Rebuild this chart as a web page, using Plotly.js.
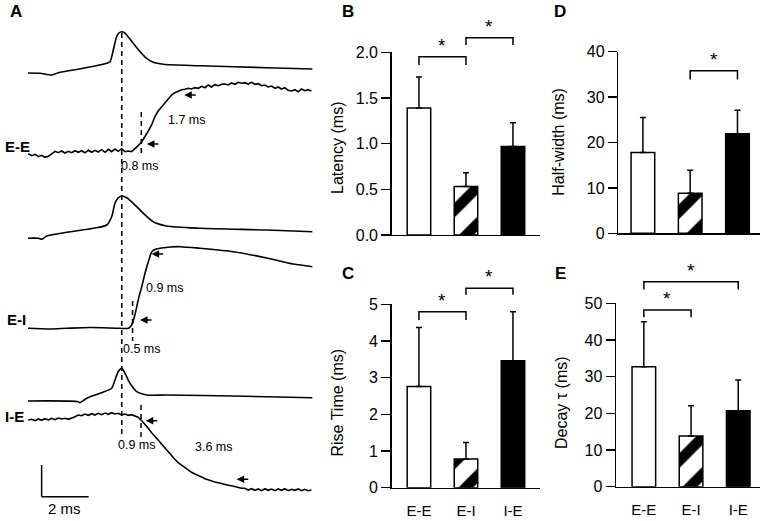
<!DOCTYPE html>
<html><head><meta charset="utf-8">
<script src="https://cdn.plot.ly/plotly-3.0.1.min.js"></script>
<style>html,body{margin:0;padding:0;background:#fff}#chart{width:764px;height:521px}</style>
</head><body><div id="chart"></div>
<script>
// ===== Panel A : example traces (time in ms, amplitude in arbitrary units) =====
const eePreT  = [0,0.51,1.01,1.29,2.35,3.35,3.49,3.63,3.77,3.87,3.99,4.09,4.20,4.48,4.77,5.05,5.33,5.76,7.32,10.16,12.10];
const eePreV  = [0,-0.3,-2,0.3,4.7,9.7,11.3,23,36.3,40,41.3,40.5,38,29.7,21.3,14.7,10.7,8.7,7.3,5.3,4];

const noisyT  = [0.01,0.16,0.30,0.44,0.58,0.72,0.87,1.01,1.15,1.29,
  1.43,1.57,1.72,1.86,2.00,2.14,2.28,2.42,2.57,2.71,
  2.85,2.99,3.13,3.28,3.42,3.56,3.70,3.84,3.98,4.13,
  4.27,4.41,4.55,4.69,4.84,4.98,5.12,5.26,5.40,5.54,
  5.69,5.83,5.97,6.11,6.25,6.39,6.54,6.68,6.82,6.96,
  7.10,7.25,7.39,7.53,7.67,7.81,7.95,8.10,8.24,8.38,
  8.52,8.66,8.81,8.95,9.09,9.23,9.37,9.51,9.66,9.80,
  9.94,10.08,10.22,10.37,10.51,10.65,10.79,10.93,11.07,11.22,
  11.36,11.50,11.64,11.78,11.92,12.06];
const eePostV = [-1.7,-3.7,-2.3,-4.7,-3.3,-5.3,-4.3,-1.7,0.7,-0.7,
  1.0,-1.0,0.7,-0.7,1.3,-0.3,1.3,-0.7,1.7,-0.3,
  1.7,0.0,2.3,-0.3,2.7,0.3,3.0,0.7,3.3,0.3,
  1.0,0.3,3.0,6.3,10.3,15.3,21.0,27.0,35.3,41.0,
  45.3,49.7,53.7,57.0,59.3,61.0,62.3,62.7,63.7,63.0,
  64.3,63.7,65.7,64.3,67.0,65.0,67.3,66.3,67.7,68.0,
  67.0,69.0,67.7,69.7,68.7,69.3,68.0,69.7,67.7,68.3,
  66.3,67.0,65.0,66.0,63.7,65.0,63.0,64.3,61.7,61.0,
  62.3,60.3,63.0,61.3,62.3,61.0];

const eiPreT  = [0,0.44,0.58,0.80,1.65,2.78,3.35,3.56,3.70,3.83,3.99,4.20,4.48,4.91,5.33,5.90,7.32,10.16,12.10];
const eiPreV  = [0,0,-1,2.3,6,10,13.3,21.6,35,40.3,42.3,40.6,35,25,16.6,12.3,10,8.3,6.6];

const eiPostT = [0,0.94,1.65,2.64,3.91,4.27,4.41,4.55,4.69,4.84,4.98,5.12,5.27,5.45,5.62,6.04,6.47,7.32,8.74,10.16,11.29,12.10];
const eiPostV = [0,-0.7,0,0.8,0,0,3.3,13.3,28.3,41.6,55,66.6,76.6,79.3,80,81.3,81.6,80,76.6,70.3,64.3,61.6];

const iePreT  = [0,2.14,2.21,2.50,3.06,3.56,3.70,3.84,3.99,4.13,4.34,4.63,5.05,5.90,8.74,12.10];
const iePreV  = [0,-0.7,-1.7,2.7,7.7,12.7,21,29.3,32.7,27.7,17.7,9.3,6,6,5,3.3];

const iePostV = [0,0.7,-0.7,1.0,-0.3,1.3,0,1.7,0.3,2.0,
  1.0,1.7,0.7,1.7,3.3,5.0,4.3,6.0,4.7,6.3,
  5.0,6.7,5.3,7.0,5.7,7.3,6.0,6.7,5.0,6.0,
  4.7,5.3,4.3,2.7,-0.7,-4.3,-8.3,-12.7,-16.0,-20.0,
  -24.3,-28.3,-32.3,-36.0,-39.3,-42.7,-45.3,-47.7,-49.7,-52.3,
  -54.0,-55.3,-57.0,-58.7,-60.0,-60.7,-62.0,-62.7,-63.7,-64.0,
  -65.3,-65.7,-66.7,-67.3,-68.3,-68.3,-70.0,-68.7,-70.3,-69.0,
  -70.7,-68.7,-70.3,-69.0,-70.7,-69.0,-70.3,-68.7,-70.7,-69.3,
  -70.3,-69.0,-70.7,-69.3,-70.7,-70.0];

const pairLabels    = ['E-E', 'E-I', 'I-E'];
const latencyLabels = ['0.8 ms', '0.5 ms', '0.9 ms'];
const riseLabels    = ['1.7 ms', '0.9 ms', '3.6 ms'];
const scaleBarMs    = 2;

// ===== Panels B-E : group means and SEM =====
const categories  = ['E-E', 'E-I', 'I-E'];
const latencyMean = [1.39, 0.53, 0.97];
const latencyErr  = [0.34, 0.15, 0.26];
const riseMean    = [2.76, 0.78, 3.46];
const riseErr     = [1.61, 0.45, 1.34];
const halfMean    = [17.8, 8.8, 21.9];
const halfErr     = [7.7, 5.1, 5.2];
const decayMean   = [32.7, 13.8, 20.7];
const decayErr    = [12.3, 8.3, 8.4];
const sigLatency  = [[0,1],[1,2]];
const sigRise     = [[0,1],[1,2]];
const sigHalf     = [[1,2]];
const sigDecay    = [[0,1],[0,2]];

// ===== drawing =====
const FONT = 'Arial, "Liberation Sans", sans-serif';
const BLACK = '#000';
const traces = [];
const shapes = [];
const annotations = [];

// axis geometry of the bar panels
const AX = {
  2: {xd:[0.5127, 0.7065], xr:[-0.58, 2.57], yd:[0.549, 0.8996],  yr:[0, 2],  dt:0.5, fmt:'.1f', lab:false},
  3: {xd:[0.5127, 0.7065], xr:[-0.58, 2.57], yd:[0.0639, 0.4159], yr:[0, 5],  dt:1,   fmt:'d',   lab:true},
  4: {xd:[0.8093, 0.9950], xr:[-0.52, 2.48], yd:[0.5522, 0.9008], yr:[0, 40], dt:10,  fmt:'d',   lab:false},
  5: {xd:[0.8063, 0.9953], xr:[-0.59, 2.47], yd:[0.0658, 0.4178], yr:[0, 50], dt:10,  fmt:'d',   lab:true}
};
const px = (n, v) => { const a = AX[n]; return a.xd[0] + (v - a.xr[0]) / (a.xr[1] - a.xr[0]) * (a.xd[1] - a.xd[0]); };
const py = (n, v) => { const a = AX[n]; return a.yd[0] + (v - a.yr[0]) / (a.yr[1] - a.yr[0]) * (a.yd[1] - a.yd[0]); };

// baselines (vertical stacking of the traces, in plot units of panel A)
const base = {eePre:73, eePost:152, eiPre:238.3, eiPost:328.3, iePre:401, iePost:420};
function wave(t, v, b, shape) {
  traces.push({type:'scatter', mode:'lines', x:t, y:v.map(a => a - b), xaxis:'x', yaxis:'y',
    line:{color:BLACK, width:1.6, shape:shape, smoothing:0.7}, hoverinfo:'skip', showlegend:false});
}
wave(eePreT, eePreV, base.eePre, 'spline');
wave(noisyT, eePostV, base.eePost, 'linear');
wave(eiPreT, eiPreV, base.eiPre, 'spline');
wave(eiPostT, eiPostV, base.eiPost, 'spline');
wave(iePreT, iePreV, base.iePre, 'spline');
wave(noisyT, iePostV, base.iePost, 'linear');

function dashLine(t, y0, y1) {
  shapes.push({type:'line', xref:'x', yref:'y', x0:t, x1:t, y0:y0, y1:y1,
    line:{color:BLACK, width:1.5, dash:'5px,4px'}});
}
dashLine(3.99, -33, -437);          // presynaptic spike peak
const onsetT = [4.82, 4.45, 4.81];
dashLine(onsetT[0], -112, -156);
dashLine(onsetT[1], -301, -341);
dashLine(onsetT[2], -405, -437);

function arrow(t, y) {
  annotations.push({xref:'x', yref:'y', x:t, y:y, ax:13, ay:0, axref:'pixel', ayref:'pixel',
    text:'', showarrow:true, arrowhead:2, arrowsize:1, arrowwidth:1.5, arrowcolor:BLACK, standoff:0});
}
arrow(5.06, -144); arrow(6.65, -95);
arrow(4.77, -320); arrow(5.26, -254);
arrow(5.01, -420.7); arrow(8.88, -479.3);

function aText(t, y, txt, size) {
  annotations.push({xref:'x', yref:'y', x:t, y:y, text:txt, showarrow:false,
    xanchor:'center', yanchor:'middle', font:{family:FONT, size:size || 12.5, color:BLACK}});
}
aText(6.75, -120, riseLabels[0]);
aText(4.77, -165.7, latencyLabels[0]);
aText(5.83, -288.3, riseLabels[1]);
aText(4.87, -349, latencyLabels[1]);
aText(4.63, -444.5, latencyLabels[2]);
aText(7.91, -446.5, riseLabels[2]);

// scale bar
shapes.push({type:'line', xref:'x', yref:'y', x0:0.58, x1:0.58, y0:-496.7, y1:-465, line:{color:BLACK, width:1.5}});
shapes.push({type:'line', xref:'x', yref:'y', x0:0.58, x1:0.58 + scaleBarMs, y0:-496.7, y1:-496.7, line:{color:BLACK, width:1.5}});
aText(0.58 + scaleBarMs / 2 - 0.03, -508.5, scaleBarMs + ' ms', 15);

// row labels
[[0.7179, 3], [0.3858, 5], [0.2002, 3]].forEach((p, i) => {
  annotations.push({xref:'paper', yref:'paper', x:p[1] / 764, y:p[0], text:'<b>' + pairLabels[i] + '</b>',
    showarrow:false, xanchor:'left', yanchor:'middle', font:{family:FONT, size:15, color:BLACK}});
});

// panel letters
[['A', 16, 12], ['B', 347.5, 12], ['C', 347.5, 273], ['D', 560, 12], ['E', 560, 273]].forEach(p => {
  annotations.push({xref:'paper', yref:'paper', x:p[1] / 764, y:1 - p[2] / 521, text:'<b>' + p[0] + '</b>',
    showarrow:false, xanchor:'center', yanchor:'middle', font:{family:FONT, size:17, color:BLACK}});
});

// bars
const barStyles = [
  {color:'white', pattern:{shape:''}},
  {color:'white', pattern:{shape:'/', fgcolor:BLACK, bgcolor:'white', size:26, solidity:0.4, fillmode:'replace'}},
  {color:'black', pattern:{shape:''}}
];
function barPanel(n, mean, err, sig, levels, title, titlePos) {
  categories.forEach((c, i) => {
    traces.push({type:'bar', x:[c], y:[mean[i]], xaxis:'x' + n, yaxis:'y' + n, width:0.5,
      marker:{color:barStyles[i].color, line:{color:BLACK, width:1.5}, pattern:barStyles[i].pattern},
      error_y:{type:'data', symmetric:false, array:[err[i]], arrayminus:[0], color:BLACK, thickness:1.5, width:3},
      hoverinfo:'skip', showlegend:false});
  });
  sig.forEach((pr, k) => {
    const hi = py(n, levels[k][0]), lo = py(n, levels[k][1]);
    const xa = px(n, pr[0]), xb = px(n, pr[1]);
    shapes.push({type:'path', xref:'paper', yref:'paper',
      path:`M${xa},${lo} L${xa},${hi} L${xb},${hi} L${xb},${lo}`,
      line:{color:BLACK, width:1.5}});
    annotations.push({xref:'paper', yref:'paper', x:(xa + xb) / 2, y:hi, yshift:-1, text:'*',
      showarrow:false, xanchor:'center', yanchor:'bottom', font:{family:FONT, size:19, color:BLACK}});
  });
  annotations.push({xref:'paper', yref:'paper', x:titlePos[0] / 764, y:1 - titlePos[1] / 521, text:title,
    textangle:-90, showarrow:false, xanchor:'center', yanchor:'middle', font:{family:FONT, size:16, color:BLACK}});
}
barPanel(2, latencyMean, latencyErr, sigLatency, [[1.95,1.86],[2.16,2.08]], 'Latency (ms)', [337, 148]);
barPanel(3, riseMean, riseErr, sigRise, [[4.80,4.57],[5.44,5.26]], 'Rise Time (ms)', [337, 402.5]);
barPanel(4, halfMean, halfErr, sigHalf, [[35.8,33.9]], 'Half-width (ms)', [559, 141.7]);
barPanel(5, decayMean, decayErr, sigDecay, [[48.2,46.2],[55.9,53.8]], 'Decay τ (ms)', [561, 403]);

const layout = {
  width:764, height:521, margin:{l:0, r:0, t:0, b:0, pad:0},
  paper_bgcolor:'white', plot_bgcolor:'rgba(0,0,0,0)', showlegend:false,
  font:{family:FONT, color:BLACK}, barmode:'overlay',
  xaxis:{domain:[0, 330/764], range:[-1.1915, 12.8511], visible:false, fixedrange:true},
  yaxis:{domain:[0, 1], range:[-521, 0], visible:false, fixedrange:true},
  shapes:shapes, annotations:annotations
};
[2, 3, 4, 5].forEach(n => {
  const a = AX[n];
  layout['xaxis' + n] = {domain:a.xd, range:a.xr, type:'category', categoryorder:'array', categoryarray:categories,
    anchor:'y' + n, showline:true, linecolor:BLACK, linewidth:1.5, ticks:'', showgrid:false, zeroline:false,
    showticklabels:a.lab, fixedrange:true, tickfont:{family:FONT, size:15, color:BLACK}, ticklabelstandoff:9};
  layout['yaxis' + n] = {domain:a.yd, range:a.yr, dtick:a.dt, tick0:0, tickformat:a.fmt, anchor:'x' + n,
    showline:true, linecolor:BLACK, linewidth:1.5, ticks:'outside', ticklen:9, tickwidth:1.5, tickcolor:BLACK,
    showgrid:false, zeroline:false, fixedrange:true, tickfont:{family:FONT, size:16, color:BLACK}};
});

Plotly.newPlot('chart', traces, layout, {staticPlot:true, displayModeBar:false});
</script>
</body></html>
